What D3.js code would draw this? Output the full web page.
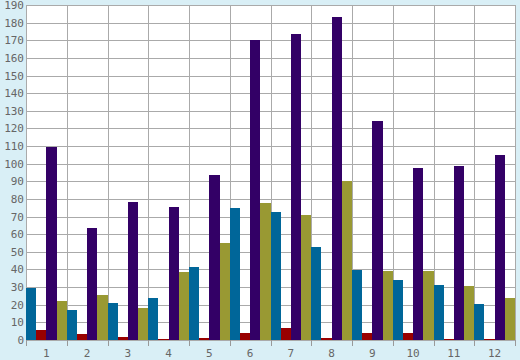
<!DOCTYPE html>
<html>
<head>
<meta charset="utf-8">
<script src="https://cdn.jsdelivr.net/npm/d3@7"></script>
<style>
html,body{margin:0;padding:0;background:#d9eff6;}
svg{display:block;}
</style>
</head>
<body>
<svg id="chart" width="520" height="360"></svg>
<script>
const categories = ["1","2","3","4","5","6","7","8","9","10","11","12"];
const seriesNames = ["A","B","C","D"];
const tealValues   = [29.6, 17.0, 21.0, 23.8, 41.4, 74.8, 72.6, 52.7, 39.7, 34.0, 31.2, 20.4];
const redValues    = [5.7, 3.4, 1.7, 0.6, 1.1, 4.0, 6.8, 1.1, 4.0, 4.0, 0.3, 0.3];
const purpleValues = [109.6, 63.5, 78.4, 75.5, 93.6, 170.2, 173.6, 183.4, 124.2, 97.6, 98.7, 104.9];
const oliveValues  = [22.1, 25.5, 18.1, 38.6, 55.0, 77.7, 70.9, 90.2, 39.1, 39.1, 30.6, 23.8];
const yTicks = d3.range(0, 191, 10);

const colors = ["#006699", "#990000", "#330066", "#999933"];
const allSeries = [tealValues, redValues, purpleValues, oliveValues];

const svg = d3.select("#chart");
const margin = {left: 26, top: 5, right: 5, bottom: 20};
const W = 520, H = 360;
const x0 = d3.scaleBand().domain(categories).range([margin.left, W - margin.right]).padding(0);
const x1 = d3.scaleBand().domain(seriesNames).range([0, x0.bandwidth()]).padding(0);
const y = d3.scaleLinear().domain([0, 190]).range([H - margin.bottom, margin.top]);

// plot background
svg.append("rect")
  .attr("x", margin.left).attr("y", margin.top)
  .attr("width", W - margin.right - margin.left)
  .attr("height", H - margin.bottom - margin.top)
  .attr("fill", "#ffffff");

// horizontal gridlines
svg.append("g").selectAll("line").data(yTicks).join("line")
  .attr("x1", margin.left).attr("x2", W - margin.right)
  .attr("y1", d => Math.round(y(d)) + 0.5).attr("y2", d => Math.round(y(d)) + 0.5)
  .attr("stroke", "#aaaaaa").attr("stroke-width", 1);

// vertical gridlines at group boundaries
const bounds = categories.map(c => x0(c)).concat([W - margin.right]);
svg.append("g").selectAll("line").data(bounds).join("line")
  .attr("x1", d => Math.round(d) + 0.5).attr("x2", d => Math.round(d) + 0.5)
  .attr("y1", margin.top).attr("y2", H - margin.bottom)
  .attr("stroke", "#aaaaaa").attr("stroke-width", 1);

// bars
const groups = svg.append("g").selectAll("g").data(categories).join("g")
  .attr("transform", c => `translate(${x0(c)},0)`);
groups.selectAll("rect").data((c, i) => allSeries.map((s, k) => ({k, v: s[i]}))).join("rect")
  .attr("x", d => x1(seriesNames[d.k]))
  .attr("width", x1.bandwidth())
  .attr("y", d => y(d.v))
  .attr("height", d => y(0) - y(d.v))
  .attr("fill", d => colors[d.k])
  .attr("shape-rendering", "crispEdges");

// x tick marks below axis
svg.append("g").selectAll("line").data(bounds).join("line")
  .attr("x1", d => Math.round(d) + 0.5).attr("x2", d => Math.round(d) + 0.5)
  .attr("y1", H - margin.bottom).attr("y2", H - margin.bottom + 6)
  .attr("stroke", "#999999");

// x labels
svg.append("g").selectAll("text").data(categories).join("text")
  .attr("x", c => x0(c) + x0.bandwidth() / 2)
  .attr("y", H - margin.bottom + 17)
  .attr("text-anchor", "middle")
  .attr("font-family", "DejaVu Sans Mono, monospace")
  .attr("font-size", 11)
  .attr("fill", "#666666")
  .text(c => c);

// y labels
svg.append("g").selectAll("text").data(yTicks).join("text")
  .attr("x", margin.left - 2)
  .attr("y", d => y(d) + 4)
  .attr("text-anchor", "end")
  .attr("font-family", "DejaVu Sans Mono, monospace")
  .attr("font-size", 11)
  .attr("fill", "#666666")
  .text(d => d);
</script>
</body>
</html>
